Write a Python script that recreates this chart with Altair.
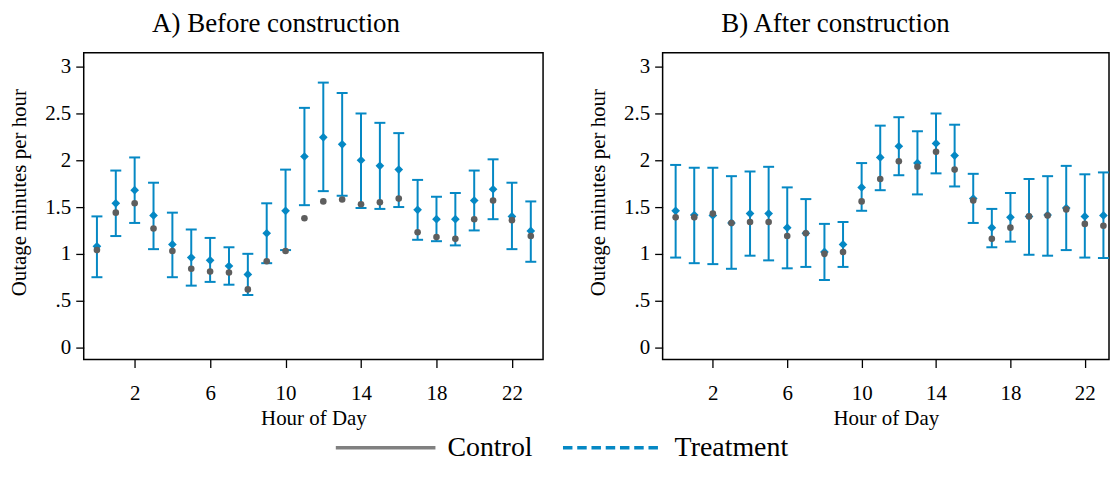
import altair as alt
import pandas as pd

hours = list(range(24))

before_treat = [1.08, 1.54, 1.68, 1.41, 1.10, 0.96, 0.93, 0.87, 0.78, 1.22, 1.46, 2.04,
                2.245, 2.17, 2.00, 1.94, 1.90, 1.47, 1.37, 1.37, 1.57, 1.69, 1.40, 1.245]
before_lo = [0.75, 1.19, 1.33, 1.05, 0.75, 0.66, 0.70, 0.67, 0.56, 0.90, 1.04, 1.52,
             1.67, 1.62, 1.49, 1.48, 1.50, 1.15, 1.135, 1.09, 1.25, 1.37, 1.05, 0.915]
before_hi = [1.40, 1.89, 2.03, 1.76, 1.44, 1.26, 1.17, 1.07, 1.00, 1.54, 1.90, 2.56,
             2.83, 2.72, 2.50, 2.40, 2.29, 1.79, 1.61, 1.65, 1.89, 2.01, 1.76, 1.56]
before_ctrl = [1.04, 1.44, 1.54, 1.27, 1.03, 0.84, 0.81, 0.80, 0.62, 0.92, 1.03, 1.38,
               1.56, 1.58, 1.53, 1.55, 1.59, 1.23, 1.18, 1.16, 1.37, 1.57, 1.36, 1.19]

after_treat = [1.46, 1.415, 1.41, 1.33, 1.43, 1.43, 1.28, 1.22, 1.02, 1.10, 1.71, 2.03,
               2.15, 1.97, 2.18, 2.05, 1.59, 1.28, 1.39, 1.40, 1.415, 1.49, 1.40, 1.41]
after_lo = [0.96, 0.90, 0.89, 0.84, 0.98, 0.93, 0.845, 0.86, 0.72, 0.86, 1.46, 1.68,
            1.84, 1.635, 1.86, 1.72, 1.33, 1.07, 1.13, 0.99, 0.98, 1.04, 0.96, 0.955]
after_hi = [1.95, 1.92, 1.92, 1.83, 1.88, 1.93, 1.71, 1.585, 1.32, 1.34, 1.97, 2.37,
            2.46, 2.31, 2.50, 2.38, 1.855, 1.48, 1.65, 1.80, 1.83, 1.94, 1.85, 1.87]
after_ctrl = [1.39, 1.39, 1.43, 1.33, 1.34, 1.34, 1.19, 1.22, 1.00, 1.02, 1.56, 1.80,
              1.99, 1.93, 2.09, 1.90, 1.57, 1.16, 1.28, 1.40, 1.41, 1.475, 1.32, 1.30]

x_ticks = [2, 6, 10, 14, 18, 22]
y_ticks = [0, 0.5, 1, 1.5, 2, 2.5, 3]
series_names = ["Control", "Treatment"]
panel_titles = ["A) Before construction", "B) After construction"]

BLUE = "#0588c4"
GRAY = "#5e5e5e"
LEGEND_GRAY = "#808080"
FONT = "Liberation Serif"


def panel_df(treat, lo, hi, ctrl):
    return pd.DataFrame({"hour": hours, "treat": treat, "lo": lo, "hi": hi, "ctrl": ctrl})


legend_df = pd.DataFrame({"hour": [0, 0], "value": [1, 1], "series": series_names})

yscale = alt.Scale(domain=[-0.13, 3.15], nice=False, zero=False)

x_axis = alt.Axis(values=x_ticks, title="Hour of Day", labelPadding=15.5, titlePadding=3.5)
y_axis = alt.Axis(values=y_ticks, title="Outage minutes per hour", format="~g",
                  labelExpr="datum.label == '0.5' ? '.5' : datum.label",
                  labelPadding=5, titlePadding=14.7, titleY=140)


def make_panel(df, title, dx, with_legend, xmax, width):
    xscale = alt.Scale(domain=[-0.7, xmax], nice=False, zero=False)

    def X():
        return alt.X("hour:Q", scale=xscale, axis=x_axis)

    def Y(field):
        return alt.Y(field + ":Q", scale=yscale, axis=y_axis)

    base = alt.Chart(df)
    stems = base.mark_rule(color=BLUE, strokeWidth=2).encode(x=X(), y=Y("lo"), y2="hi:Q")
    cap_lo = base.mark_tick(color=BLUE, orient="horizontal", size=11, thickness=2,
                            opacity=1).encode(x=X(), y=Y("lo"))
    cap_hi = base.mark_tick(color=BLUE, orient="horizontal", size=11, thickness=2,
                            opacity=1).encode(x=X(), y=Y("hi"))
    diamonds = base.mark_point(shape="diamond", filled=True, size=76, color=BLUE,
                               opacity=1).encode(x=X(), y=Y("treat"))
    dots = base.mark_circle(size=44, color=GRAY, opacity=1).encode(x=X(), y=Y("ctrl"))
    layers = [stems, cap_lo, cap_hi, diamonds, dots]
    if with_legend:
        leg = alt.Legend(orient="none", legendX=251, legendY=344.5, direction="horizontal",
                         title=None, symbolType="stroke", symbolSize=10000,
                         symbolStrokeWidth=3.5, labelFontSize=28, labelFont=FONT,
                         labelColor="black", labelOffset=10, columnPadding=23, padding=0)
        legend_layer = alt.Chart(legend_df).transform_filter("false").mark_line(
            strokeWidth=3.5).encode(
            x=X(), y=Y("value"),
            color=alt.Color("series:N", scale=alt.Scale(domain=series_names,
                                                         range=[LEGEND_GRAY, BLUE]),
                            legend=leg),
            strokeDash=alt.StrokeDash("series:N",
                                      scale=alt.Scale(domain=series_names,
                                                      range=[[1, 0], [9.5, 4.8]]),
                                      legend=leg),
        )
        layers.append(legend_layer)
    return alt.layer(*layers).properties(
        width=width, height=308,
        title=alt.TitleParams(title, fontSize=27, font=FONT, fontWeight="normal",
                              color="black", anchor="middle", frame="bounds", dx=dx,
                              offset=14.7),
    )


left = make_panel(panel_df(before_treat, before_lo, before_hi, before_ctrl),
                  panel_titles[0], 0, True, 23.65, 461)
right = make_panel(panel_df(after_treat, after_lo, after_hi, after_ctrl),
                   panel_titles[1], -13, False, 23.3, 448)

chart = alt.hconcat(left, right, spacing=43).properties(padding=0).configure_view(
    stroke="black", strokeWidth=1.5
).configure_axis(
    grid=False, domain=False, tickColor="black", tickSize=8, tickWidth=1.3,
    labelFont=FONT, titleFont=FONT, labelFontSize=21, titleFontSize=21,
    labelColor="black", titleColor="black", titleFontWeight="normal"
)

chart.save("out.html", embed_options={"renderer": "svg", "actions": False})
